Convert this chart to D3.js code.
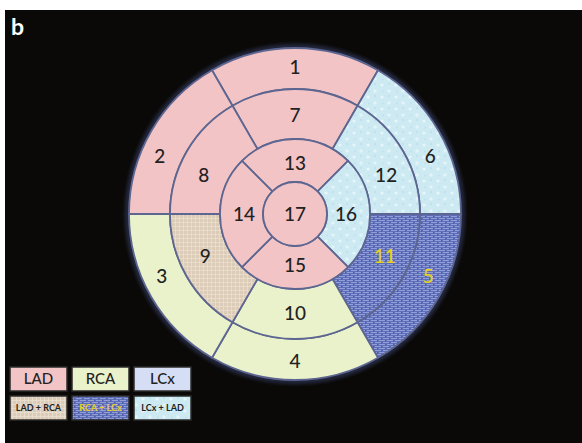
<!DOCTYPE html>
<html>
<head>
<meta charset="utf-8">
<script src="https://cdn.jsdelivr.net/npm/d3@7"></script>
<style>
  html, body { margin: 0; padding: 0; background: #ffffff; }
  svg { display: block; }
</style>
</head>
<body>
<svg id="chart" width="582" height="443"></svg>
<script>
// 17-segment bullseye: segment numbers per ring, going clockwise from 12 o'clock
const basalSegments = [1, 6, 5, 4, 3, 2];
const midSegments = [7, 12, 11, 10, 9, 8];
const apicalSegments = [13, 16, 15, 14];
const apexSegments = [17];

// Coronary territory of each segment (segment 1..17)
const segmentTerritory = [
  "LAD", "LAD", "RCA", "RCA", "RCA+LCx", "LCx+LAD",
  "LAD", "LAD", "LAD+RCA", "RCA", "RCA+LCx", "LCx+LAD",
  "LAD", "LAD", "LAD", "LCx+LAD",
  "LAD"
];

// Legend entries (two rows of three)
const legendKeys = ["LAD", "RCA", "LCx", "LAD+RCA", "RCA+LCx", "LCx+LAD"];
const legendLabels = ["LAD", "RCA", "LCx", "LAD + RCA", "RCA + LCx", "LCx + LAD"];

const svg = d3.select("#chart");
const W = 582, H = 443;
const defs = svg.append("defs");

// ---- fills and textures ----
// brick-like grain for RCA + LCx
const pBlue = defs.append("pattern").attr("id", "texBlue")
  .attr("patternUnits", "userSpaceOnUse").attr("width", 8).attr("height", 4);
pBlue.append("rect").attr("width", 8).attr("height", 4).attr("fill", "#5f6eb8");
pBlue.append("path").attr("d", "M0,0.5H6M4,2.5H8M0,2.5H2")
  .attr("stroke", "#97a4da").attr("stroke-width", 0.9);
pBlue.append("path").attr("d", "M6.5,0V2M2.5,2V4")
  .attr("stroke", "#4c5aa3").attr("stroke-width", 0.7);

// fine grid for LAD + RCA
const pTan = defs.append("pattern").attr("id", "texTan")
  .attr("patternUnits", "userSpaceOnUse").attr("width", 4).attr("height", 4);
pTan.append("rect").attr("width", 4).attr("height", 4).attr("fill", "#dccbb6");
pTan.append("path").attr("d", "M0,0.5H4M0.5,0V4")
  .attr("stroke", "#eadfd0").attr("stroke-width", 0.8);

// watery spots for LCx + LAD
const pCyan = defs.append("pattern").attr("id", "texCyan")
  .attr("patternUnits", "userSpaceOnUse").attr("width", 14).attr("height", 12);
pCyan.append("rect").attr("width", 14).attr("height", 12).attr("fill", "#cdeaf3");
pCyan.append("circle").attr("cx", 3).attr("cy", 3).attr("r", 1.6).attr("fill", "#e6f6fa");
pCyan.append("circle").attr("cx", 10).attr("cy", 9).attr("r", 1.8).attr("fill", "#e2f4f9");
pCyan.append("circle").attr("cx", 10).attr("cy", 2).attr("r", 0.9).attr("fill", "#b9dcea");
pCyan.append("circle").attr("cx", 4).attr("cy", 9.5).attr("r", 0.9).attr("fill", "#bfe0ec");

const fillOf = {
  "LAD": "#f3c4c6",
  "RCA": "#eaf2cb",
  "LCx": "#d5def5",
  "LAD+RCA": "url(#texTan)",
  "RCA+LCx": "url(#texBlue)",
  "LCx+LAD": "url(#texCyan)"
};
const textColorOf = key => key === "RCA+LCx" ? "#e6d21c" : "#222222";

// soft bluish halo round the disc
const halo = defs.append("filter").attr("id", "halo")
  .attr("x", "-10%").attr("y", "-10%").attr("width", "120%").attr("height", "120%");
halo.append("feGaussianBlur").attr("stdDeviation", 2.2);

// ---- background ----
svg.append("rect").attr("width", W).attr("height", H).attr("fill", "#ffffff");
svg.append("rect").attr("x", 5).attr("y", 10).attr("width", W - 5).attr("height", H - 10)
  .attr("fill", "#0a0907");

svg.append("text").attr("x", 11).attr("y", 35)
  .attr("font-family", "Lato, 'Open Sans', sans-serif").attr("font-weight", 700)
  .attr("font-size", 23).attr("fill", "#ffffff").text("b");

// ---- bullseye ----
const cx = 295, cy = 214;
const radii = { apex: 32, apical: 75, mid: 125, basal: 166 };
const g = svg.append("g").attr("transform", `translate(${cx},${cy})`);

g.append("circle").attr("r", radii.basal + 1.5).attr("fill", "none")
  .attr("stroke", "#39406a").attr("stroke-width", 3).attr("filter", "url(#halo)");

const rings = [
  { segs: basalSegments, inner: radii.mid, outer: radii.basal, labelR: 147, upShift: 7, downShift: 5 },
  { segs: midSegments, inner: radii.apical, outer: radii.mid, labelR: 99, upShift: 7, downShift: 5 },
  { segs: apicalSegments, inner: radii.apex, outer: radii.apical, labelR: 51, upShift: 0, downShift: 0 },
  { segs: apexSegments, inner: 0, outer: radii.apex, labelR: 0, upShift: 0, downShift: 0 }
];

const lineColor = "#5d6690";
const font = "Lato, 'Open Sans', sans-serif";

rings.forEach(ring => {
  const n = ring.segs.length;
  const pie = d3.pie().value(1).sort(null)
    .startAngle(-Math.PI / n).endAngle(2 * Math.PI - Math.PI / n);
  const arcs = pie(ring.segs);
  const arc = d3.arc().innerRadius(ring.inner).outerRadius(ring.outer);

  g.selectAll(null).data(arcs).enter().append("path")
    .attr("d", arc)
    .attr("fill", d => fillOf[segmentTerritory[d.data - 1]])
    .attr("stroke", lineColor).attr("stroke-width", 1.8)
    .attr("stroke-linejoin", "round");

  g.selectAll(null).data(arcs).enter().append("text")
    .attr("transform", d => {
      let a = (d.startAngle + d.endAngle) / 2;
      // side segments of six-part rings: nudge label toward the horizontal
      if (n === 6) {
        const deg = a * 180 / Math.PI;
        const up = ring.upShift * Math.PI / 180, down = ring.downShift * Math.PI / 180;
        if (deg > 45 && deg < 90) a += up;
        else if (deg > 90 && deg < 135) a -= down;
        else if (deg > 225 && deg < 270) a += down;
        else if (deg > 270 && deg < 315) a -= up;
      }
      const x = ring.labelR * Math.sin(a), y = -ring.labelR * Math.cos(a);
      return `translate(${x},${y})`;
    })
    .attr("text-anchor", "middle").attr("dy", "0.36em")
    .attr("font-family", font).attr("font-size", 19).attr("font-weight", 500)
    .attr("fill", d => textColorOf(segmentTerritory[d.data - 1]))
    .text(d => d.data);
});

// ---- legend ----
const boxW = 57, boxH = 24, gapX = 5, gapY = 5;
const lx0 = 10, ly0 = 367;
const legend = svg.append("g");
legendKeys.forEach((key, i) => {
  const col = i % 3, row = Math.floor(i / 3);
  const x = lx0 + col * (boxW + gapX), y = ly0 + row * (boxH + gapY);
  legend.append("rect").attr("x", x).attr("y", y).attr("width", boxW).attr("height", boxH)
    .attr("fill", fillOf[key]).attr("stroke", "#2a2a2a").attr("stroke-width", 1.5);
  legend.append("text").attr("x", x + boxW / 2).attr("y", y + boxH / 2)
    .attr("dy", "0.36em").attr("text-anchor", "middle")
    .attr("font-family", font)
    .attr("font-size", row === 0 ? 15 : 9)
    .attr("font-weight", row === 0 ? 500 : 700)
    .attr("fill", textColorOf(key))
    .text(legendLabels[i]);
});
</script>
</body>
</html>
